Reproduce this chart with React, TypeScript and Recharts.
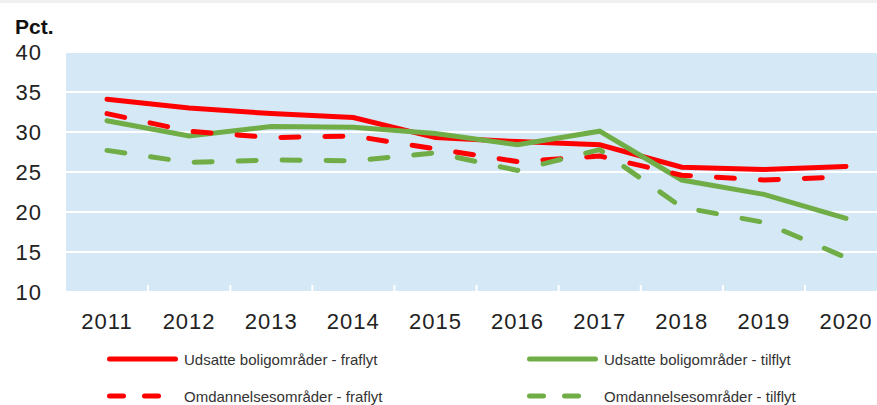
import { CartesianGrid, Line, LineChart, XAxis, YAxis } from "recharts";

const years = ["2011", "2012", "2013", "2014", "2015", "2016", "2017", "2018", "2019", "2020"];
const udsatteFraflyt = [34.1, 33.0, 32.3, 31.8, 29.3, 28.8, 28.4, 25.6, 25.3, 25.7];
const udsatteTilflyt = [31.4, 29.5, 30.7, 30.6, 29.8, 28.4, 30.1, 24.0, 22.2, 19.2];
const omdFraflyt = [32.3, 30.1, 29.3, 29.5, 27.9, 26.3, 27.0, 24.6, 24.0, 24.4];
const omdTilflyt = [27.7, 26.2, 26.5, 26.4, 27.4, 25.2, 27.8, 20.6, 18.7, 14.3];
const yTicks = [10, 15, 20, 25, 30, 35, 40];

const RED = "#FF0000";
const GREEN = "#70AD47";
const HALF_BAND = 41;

const series = [
  { key: "uf", name: "Udsatte boligområder - fraflyt", color: RED, dashed: false },
  { key: "ut", name: "Udsatte boligområder - tilflyt", color: GREEN, dashed: false },
  { key: "of", name: "Omdannelsesområder - fraflyt", color: RED, dashed: true },
  { key: "ot", name: "Omdannelsesområder - tilflyt", color: GREEN, dashed: true },
];

const data = years.map((year, i) => ({
  year,
  uf: udsatteFraflyt[i],
  ut: udsatteTilflyt[i],
  of: omdFraflyt[i],
  ot: omdTilflyt[i],
}));

const font = "'Liberation Sans', Arial, sans-serif";

// year label plus the small white category separator rising from the plot bottom
function YearTick(props: any) {
  const { x, y, payload, index } = props;
  return (
    <g>
      {index > 0 && (
        <line x1={x - HALF_BAND} x2={x - HALF_BAND} y1={y - 21} y2={y - 28} stroke="#fff" strokeWidth={2} />
      )}
      <text
        x={x}
        y={y}
        dy="0.71em"
        textAnchor="middle"
        fontFamily={font}
        fontSize={22}
        letterSpacing={1}
        fill="#222"
      >
        {payload.value}
      </text>
    </g>
  );
}

function LegendItem({ name, color, dashed }: { name: string; color: string; dashed: boolean }) {
  return (
    <div style={{ display: "flex", alignItems: "center", height: 20 }}>
      <svg width={74} height={10} style={{ marginRight: 4 }}>
        <line
          x1={3.5}
          x2={69.5}
          y1={5}
          y2={5}
          stroke={color}
          strokeWidth={5}
          strokeLinecap="round"
          strokeDasharray={dashed ? "14 21" : undefined}
        />
      </svg>
      <span style={{ fontFamily: font, fontSize: 15, color: "#333" }}>{name}</span>
    </div>
  );
}

export default function App() {
  return (
    <div
      style={{
        position: "fixed",
        left: 0,
        top: 0,
        width: 877,
        height: 405,
        overflow: "hidden",
        background: "#fff",
      }}
    >
      <div style={{ position: "absolute", left: 0, top: 0, width: 877, height: 3, background: "#f0f0f0" }} />
      <div
        style={{
          position: "absolute",
          left: 15,
          top: 15,
          fontFamily: font,
          fontWeight: "bold",
          fontSize: 21,
          color: "#111",
        }}
      >
        Pct.
      </div>
      <LineChart
        width={900}
        height={405}
        data={data}
        margin={{ top: 52, right: 13, bottom: 68, left: 0 }}
      >
        <CartesianGrid horizontal vertical={false} fill="#D5E8F6" stroke="#fff" strokeWidth={2} fillOpacity={1} />
        <XAxis
          dataKey="year"
          height={45}
          padding={{ left: HALF_BAND, right: HALF_BAND }}
          axisLine={false}
          tickLine={false}
          tickSize={0}
          tickMargin={21}
          interval={0}
          tick={<YearTick />}
        />
        <YAxis
          domain={[10, 40]}
          ticks={yTicks}
          width={66}
          axisLine={false}
          tickLine={false}
          tickSize={0}
          tickMargin={24}
          tick={{ fontFamily: font, fontSize: 22, fill: "#222", letterSpacing: 1 }}
        />
        {series.map((s) => (
          <Line
            key={s.key}
            dataKey={s.key}
            name={s.name}
            stroke={s.color}
            strokeWidth={5}
            strokeLinecap="round"
            strokeDasharray={s.dashed ? "18 26" : undefined}
            dot={false}
            activeDot={false}
            isAnimationActive={false}
          />
        ))}
      </LineChart>
      <div
        style={{
          position: "absolute",
          left: 106,
          top: 349,
          display: "grid",
          gridTemplateColumns: "420px 300px",
          rowGap: 17,
        }}
      >
        {series.map((s) => (
          <LegendItem key={s.key} name={s.name} color={s.color} dashed={s.dashed} />
        ))}
      </div>
    </div>
  );
}
